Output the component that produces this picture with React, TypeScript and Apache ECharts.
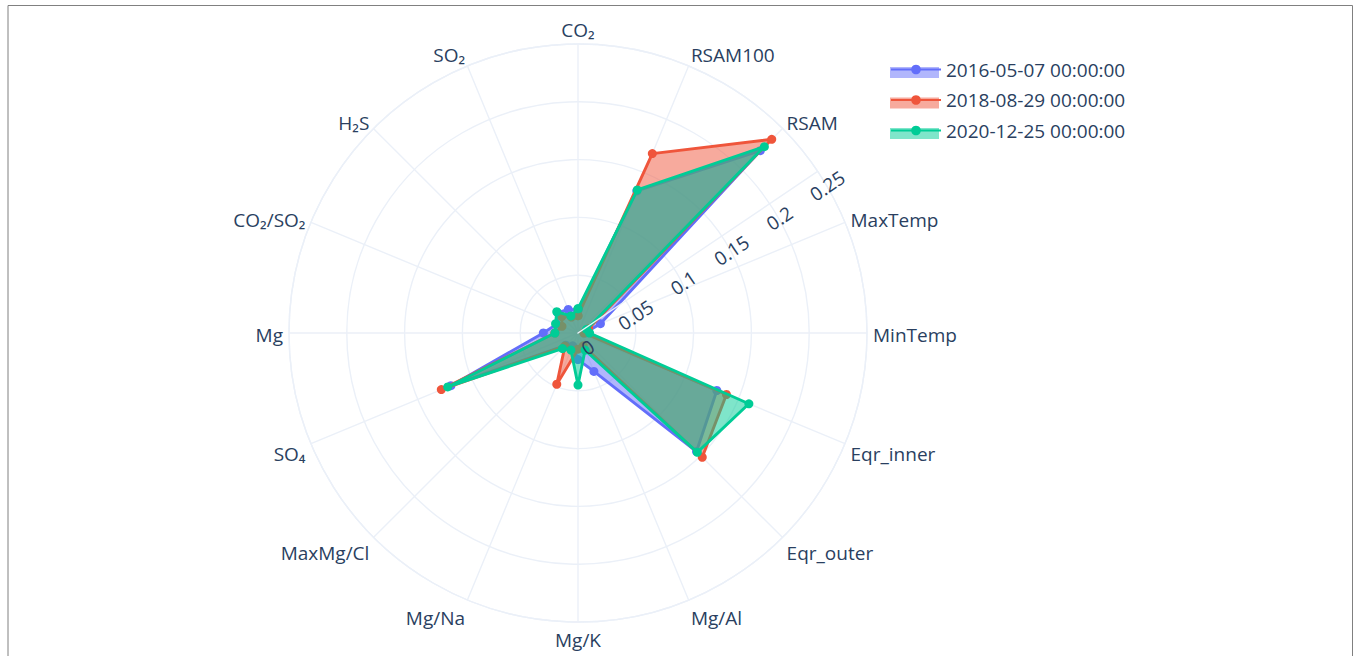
import { useEffect, useRef } from 'react';
import * as echarts from 'echarts';

const categories = ['CO₂', 'RSAM100', 'RSAM', 'MaxTemp', 'MinTemp', 'Eqr_inner', 'Eqr_outer', 'Mg/Al', 'Mg/K', 'Mg/Na', 'MaxMg/Cl', 'SO₄', 'Mg', 'CO₂/SO₂', 'H₂S', 'SO₂'];
const seriesNames = ['2016-05-07 00:00:00', '2018-08-29 00:00:00', '2020-12-25 00:00:00'];
const values2016 = [0.02, 0.133, 0.223, 0.021, 0.006, 0.130, 0.145, 0.036, 0.023, 0.012, 0.015, 0.119, 0.030, 0.020, 0.025, 0.022];
const values2018 = [0.015, 0.168, 0.237, 0.010, 0.005, 0.139, 0.152, 0.012, 0.014, 0.048, 0.016, 0.128, 0.020, 0.015, 0.020, 0.015];
const values2020 = [0.021, 0.134, 0.228, 0.008, 0.010, 0.160, 0.146, 0.016, 0.045, 0.016, 0.019, 0.122, 0.020, 0.021, 0.026, 0.016];
const radialMin = 0;
const radialMax = 0.25;
const radialStep = 0.05;
const colors = ['#636efa', '#EF553B', '#00cc96'];

const FONT = '"Open Sans", "Noto Sans", Arial, sans-serif';
const FS = 19;
const TEXT = '#2a3f5f';
const GRID = '#ebf0f8';
const STEP = 360 / categories.length;
const CX = 578;
const CY = 333;
const R = 289;
const RADIAL_ANGLE = 34;

// vertical nudge (px, + = down) of each angular label's centre from its anchor point (style only)
const labelNudge = [-8.5, -5, -1.5, 0, 2, 8.5, 12.5, 15.5, 14, 15.5, 12.5, 8.5, 2, 0, -1.5, -5];

function toPolar(values: number[]) {
  const pts = values.map((v, i) => [v, i * STEP]);
  pts.push([values[0], 360]);
  return pts;
}

const labelRich: Record<string, any> = {};
categories.forEach((_, i) => {
  const sin = Math.sin(((90 - i * STEP) * Math.PI) / 180);
  const off = labelNudge[i];
  let lineHeight = 20;
  let padding = [0, 0, 0, 0];
  if (Math.abs(sin) < 0.3) {
    padding = [Math.max(0, 2 * off), 0, Math.max(0, -2 * off), 0];
  } else if (sin > 0) {
    // bottom-aligned label: centre sits lineHeight/2 above anchor
    lineHeight = Math.max(1, 2 * Math.abs(off));
  } else {
    // top-aligned label
    if (off < 10) lineHeight = Math.max(1, 2 * off);
    else padding = [off - 10, 0, 0, 0];
  }
  labelRich['s' + i] = { fontSize: FS, fontFamily: FONT, color: TEXT, lineHeight, padding };
});

export default function App() {
  const ref = useRef<HTMLDivElement>(null);
  useEffect(() => {
    if (!ref.current) return;
    const chart = echarts.init(ref.current, undefined, { renderer: 'svg' });
    const allValues = [values2016, values2018, values2020];
    chart.setOption({
      animation: false,
      backgroundColor: '#ffffff',
      textStyle: { fontFamily: FONT },
      polar: [
        { center: [CX, CY], radius: R },
        { center: [CX, CY], radius: R },
      ],
      angleAxis: [
        {
          polarIndex: 0,
          type: 'value',
          min: 0,
          max: 360,
          interval: STEP,
          startAngle: 90,
          clockwise: true,
          axisLine: { show: true, lineStyle: { color: GRID, width: 1.4 } },
          axisTick: { show: false },
          splitLine: { show: true, lineStyle: { color: GRID, width: 1.4 } },
          axisLabel: {
            show: true,
            margin: 6,
            color: TEXT,
            fontSize: FS,
            fontFamily: FONT,
            rich: labelRich,
            formatter: (v: number) => {
              const i = Math.round(v / STEP);
              return i < categories.length ? `{s${i}|${categories[i]}}` : '';
            },
          },
        },
        {
          polarIndex: 1,
          type: 'value',
          min: 0,
          max: 360,
          startAngle: RADIAL_ANGLE,
          show: false,
          axisLine: { show: false },
          axisTick: { show: false },
          axisLabel: { show: false },
          splitLine: { show: false },
        },
      ],
      radiusAxis: [
        {
          polarIndex: 0,
          type: 'value',
          min: radialMin,
          max: radialMax,
          interval: radialStep,
          axisLine: { show: false },
          axisTick: { show: false },
          axisLabel: { show: false },
          splitLine: { show: true, lineStyle: { color: GRID, width: 1.4 } },
        },
        {
          polarIndex: 1,
          type: 'value',
          min: radialMin,
          max: radialMax,
          interval: radialStep,
          z: 10,
          axisLine: { show: true, lineStyle: { color: GRID, width: 1.4 } },
          axisTick: { show: false },
          splitLine: { show: false },
          axisLabel: {
            show: true,
            rotate: RADIAL_ANGLE,
            margin: -27,
            color: TEXT,
            fontSize: FS,
            fontFamily: FONT,
            formatter: (v: number) => String(parseFloat(v.toFixed(2))),
          },
        },
      ],
      legend: [
        {
          orient: 'vertical',
          left: 890,
          top: 62.5,
          padding: 0,
          itemWidth: 49,
          itemHeight: 11,
          itemGap: 10.5,
          icon: 'rect',
          z: 3,
          selectedMode: false,
          itemStyle: { opacity: 0.5 },
          lineStyle: { opacity: 0.5 },
          textStyle: { fontSize: FS, lineHeight: 20, color: TEXT },
          formatter: () => ' ',
          data: seriesNames,
        },
        {
          orient: 'vertical',
          left: 890,
          top: 59.5,
          padding: 0,
          itemWidth: 50,
          itemHeight: 12,
          itemGap: 10.5,
          z: 4,
          textStyle: { fontSize: FS, lineHeight: 20, color: TEXT, fontFamily: FONT },
          data: seriesNames,
        },
      ],
      graphic: [
        {
          type: 'rect',
          shape: { x: 8, y: 5.5, width: 1344.5, height: 700 },
          style: { fill: 'none', stroke: '#808080', lineWidth: 1 },
          silent: true,
          z: 100,
        },
      ],
      series: seriesNames.map((name, k) => ({
        name,
        type: 'line',
        coordinateSystem: 'polar',
        polarIndex: 0,
        data: toPolar(allValues[k]),
        symbol: 'circle',
        symbolSize: 9,
        showSymbol: true,
        color: colors[k],
        lineStyle: { width: 2.9, color: colors[k] },
        itemStyle: { color: colors[k] },
        areaStyle: { color: colors[k], opacity: 0.5 },
        z: 2 + k,
      })),
    });
    return () => chart.dispose();
  }, []);
  return (
    <div
      ref={ref}
      style={{ position: 'absolute', left: 0, top: 0, width: 1356, height: 656, background: '#fff' }}
    />
  );
}
